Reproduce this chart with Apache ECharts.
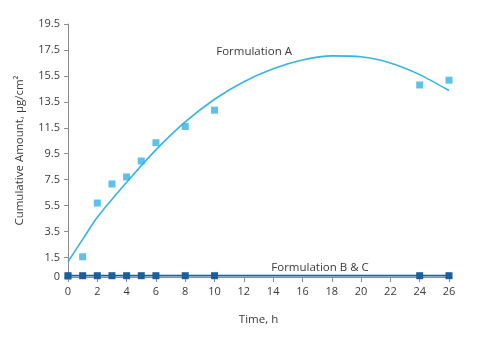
<!DOCTYPE html>
<html>
<head>
<meta charset="utf-8">
<script src="https://cdn.jsdelivr.net/npm/echarts@6/dist/echarts.min.js"></script>
<style>
  html, body { margin: 0; padding: 0; background: #fff; }
  #chart { width: 484px; height: 343px; }
</style>
</head>
<body>
<div id="chart"></div>
<script>
// Sampling times (h) and measured cumulative amounts (µg/cm²)
const timesA = [0, 1, 2, 3, 4, 5, 6, 8, 10, 24, 26];
const amountA = [0.05, 1.56, 5.7, 7.17, 7.71, 8.94, 10.35, 11.6, 12.86, 14.8, 15.17];

// Fitted trend for Formulation A
const trendTimes = [0, 1, 2, 4, 6, 8, 10, 12, 14, 16, 18, 20, 22, 24, 26];
const trendA = [1.18, 2.9, 4.6, 7.3, 9.8, 11.95, 13.7, 15.05, 16.05, 16.72, 17.04, 16.98, 16.5, 15.6, 14.37];

// Formulations B & C stay near zero
const timesBC = [0, 1, 2, 3, 4, 5, 6, 8, 10, 24, 26];
const amountBC = [0.1, 0.1, 0.1, 0.1, 0.1, 0.1, 0.1, 0.1, 0.1, 0.1, 0.1];

// Axis tick labels
const yTicks = [0, 1.5, 3.5, 5.5, 7.5, 9.5, 11.5, 13.5, 15.5, 17.5, 19.5];
const xTicks = [0, 2, 4, 6, 8, 10, 12, 14, 16, 18, 20, 22, 24, 26];

const pair = (xs, ys) => xs.map((x, i) => [x, ys[i]]);

const font = '"Open Sans", sans-serif';
const textColor = '#3a3a3a';
const axisColor = '#8c8c8c';
const lightBlue = '#35b3e4';
const darkBlue = '#1b5e9e';

const chart = echarts.init(document.getElementById('chart'));
chart.setOption({
  animation: false,
  textStyle: { fontFamily: font },
  grid: { left: 68, right: 35, top: 24, bottom: 66 },
  xAxis: {
    type: 'value',
    min: 0, max: 26, interval: 2,
    name: 'Time, h',
    nameLocation: 'middle',
    nameGap: 37,
    nameTextStyle: { color: textColor, fontSize: 11.5, fontFamily: font },
    axisLine: { onZero: false, lineStyle: { color: axisColor, width: 1 } },
    axisTick: { show: true, length: 5, lineStyle: { color: axisColor } },
    axisLabel: { color: textColor, fontSize: 11, margin: 9, fontFamily: font, customValues: xTicks },
    splitLine: { show: false }
  },
  yAxis: {
    type: 'value',
    min: 0, max: 19.5,
    name: 'Cumulative Amount, μg/cm²',
    nameLocation: 'middle',
    nameGap: 42,
    nameTextStyle: { color: textColor, fontSize: 11.5, fontFamily: font },
    axisLine: { show: true, lineStyle: { color: axisColor, width: 1 } },
    axisTick: { show: true, length: 4, lineStyle: { color: axisColor }, customValues: yTicks },
    axisLabel: { color: textColor, fontSize: 11, margin: 8, fontFamily: font, customValues: yTicks },
    splitLine: { show: false }
  },
  series: [
    {
      name: 'Formulation A trend',
      type: 'line',
      data: pair(trendTimes, trendA),
      smooth: 0.25,
      showSymbol: false,
      lineStyle: { color: lightBlue, width: 1.6 },
      z: 2,
      markPoint: {
        symbol: 'circle', symbolSize: 0,
        label: { show: true, formatter: 'Formulation A', color: textColor, fontSize: 11.5, fontFamily: font },
        data: [{ coord: [12.7, 17.4] }]
      }
    },
    {
      name: 'Formulation A',
      type: 'scatter',
      data: pair(timesA, amountA),
      symbol: 'rect',
      symbolSize: 7,
      itemStyle: { color: lightBlue },
      z: 3
    },
    {
      name: 'Formulation B & C',
      type: 'line',
      data: pair(timesBC, amountBC),
      symbol: 'rect',
      symbolSize: 7,
      showAllSymbol: true,
      lineStyle: { color: darkBlue, width: 1.8 },
      itemStyle: { color: darkBlue },
      z: 4,
      markPoint: {
        symbol: 'circle', symbolSize: 0,
        label: { show: true, formatter: 'Formulation B & C', color: textColor, fontSize: 11.5, fontFamily: font },
        data: [{ coord: [17.2, 0.72] }]
      }
    }
  ]
});
</script>
</body>
</html>
